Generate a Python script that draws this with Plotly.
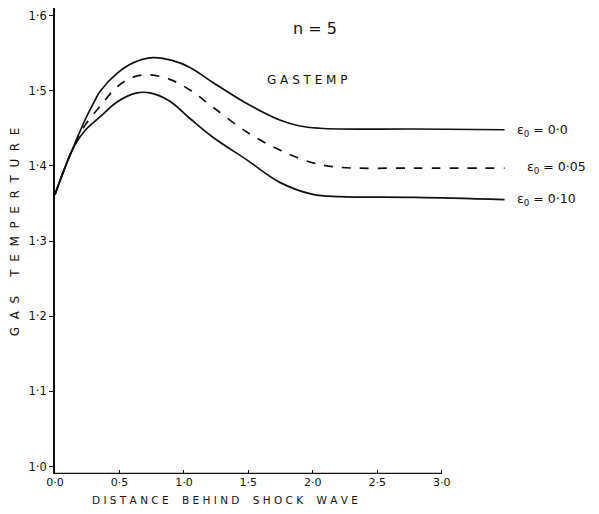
import plotly.graph_objects as go

# Distance behind shock wave (x) and gas temperature (y)
x_eps000 = [0.0, 0.078, 0.155, 0.233, 0.310, 0.349, 0.481, 0.605, 0.760, 0.915, 1.047, 1.225, 1.488, 1.744, 1.900, 2.054, 2.209, 2.800, 3.488]
y_eps000 = [1.362, 1.398, 1.430, 1.461, 1.487, 1.499, 1.523, 1.537, 1.544, 1.540, 1.531, 1.511, 1.483, 1.461, 1.453, 1.450, 1.449, 1.449, 1.448]

x_eps005 = [0.0, 0.078, 0.155, 0.233, 0.349, 0.481, 0.605, 0.736, 0.891, 1.047, 1.225, 1.488, 1.744, 2.000, 2.209, 2.800, 3.488]
y_eps005 = [1.362, 1.398, 1.430, 1.454, 1.479, 1.505, 1.518, 1.521, 1.515, 1.501, 1.478, 1.445, 1.421, 1.404, 1.398, 1.397, 1.397]

x_eps010 = [0.0, 0.078, 0.155, 0.233, 0.349, 0.481, 0.636, 0.736, 0.891, 1.047, 1.225, 1.488, 1.744, 2.000, 2.209, 2.800, 3.488]
y_eps010 = [1.362, 1.398, 1.428, 1.447, 1.465, 1.485, 1.497, 1.497, 1.486, 1.463, 1.438, 1.408, 1.378, 1.362, 1.359, 1.358, 1.355]

series_labels = ["ε<sub>0</sub> = 0·0", "ε<sub>0</sub> = 0·05", "ε<sub>0</sub> = 0·10"]

x_tickvals = [0.0, 0.5, 1.0, 1.5, 2.0, 2.5, 3.0]
x_ticktext = ["0·0", "0·5", "1·0", "1·5", "2·0", "2·5", "3·0"]
y_tickvals = [1.0, 1.1, 1.2, 1.3, 1.4, 1.5, 1.6]
y_ticktext = ["1·0", "1·1", "1·2", "1·3", "1·4", "1·5", "1·6"]

FONT = "DejaVu Sans"
ink = "#111111"

fig = go.Figure()
for xs, ys, dash in [(x_eps000, y_eps000, "solid"),
                     (x_eps005, y_eps005, "dash"),
                     (x_eps010, y_eps010, "solid")]:
    fig.add_trace(go.Scatter(x=xs, y=ys, mode="lines",
                             line=dict(color=ink, width=1.7, dash=dash, shape="spline", smoothing=1.0),
                             showlegend=False, hoverinfo="skip"))

# series labels at the right end of the curves (paper coordinates)
label_pos = [(0.991, 0.738), (1.013, 0.657), (0.991, 0.588)]
for (lx, ly), txt in zip(label_pos, series_labels):
    fig.add_annotation(x=lx, y=ly, xref="paper", yref="paper", text=txt, showarrow=False,
                       xanchor="left", yanchor="middle",
                       font=dict(family=FONT, size=12.5, color=ink))

# bottom axis line only up to 3.0
fig.add_shape(type="line", xref="x", yref="y", x0=0, x1=3.0, y0=0.9905, y1=0.9905,
              line=dict(color=ink, width=1.7))

fig.add_annotation(x=0.560, y=0.957, xref="paper", yref="paper", text="n = 5", showarrow=False,
                   xanchor="center", yanchor="middle",
                   font=dict(family=FONT, size=16, color=ink))
fig.add_annotation(x=0.545, y=0.845, xref="paper", yref="paper", text="G A S T E M P", showarrow=False,
                   xanchor="center", yanchor="middle",
                   font=dict(family=FONT, size=12, color=ink))

# axis titles
fig.add_annotation(x=0.366, y=-0.0558, xref="paper", yref="paper",
                   text="D I S T A N C E    B E H I N D    S H O C K    W A V E",
                   xanchor="center", yanchor="middle",
                   showarrow=False, font=dict(family=FONT, size=10.5, color=ink))
fig.add_annotation(x=-0.0862, y=0.519, xref="paper", yref="paper", textangle=-90,
                   text="G  A  S     T  E  M  P  E  R  T  U  R  E",
                   xanchor="center", yanchor="middle",
                   showarrow=False, font=dict(family=FONT, size=12, color=ink))

# page body adds an 8px offset, so the figure is 8px smaller with tighter left/top margins
fig.update_layout(
    width=591, height=506,
    margin=dict(l=47, r=80, t=0, b=40),
    paper_bgcolor="white", plot_bgcolor="white",
    font=dict(family=FONT, size=11, color=ink),
    xaxis=dict(range=[0, 3.6], tickvals=x_tickvals, ticktext=x_ticktext, automargin=False,
               showgrid=False, zeroline=False, showline=False,
               ticks="inside", ticklen=4, tickcolor=ink, tickwidth=1.2,
               tickfont=dict(family=FONT, size=11, color=ink)),
    yaxis=dict(range=[0.99, 1.61], tickvals=y_tickvals, ticktext=y_ticktext, automargin=False,
               showgrid=False, zeroline=False, showline=True, linecolor=ink, linewidth=1.7,
               ticks="outside", ticklen=4, tickcolor=ink, tickwidth=1.2,
               tickfont=dict(family=FONT, size=11.5, color=ink)),
)

fig.write_html("out.html")
